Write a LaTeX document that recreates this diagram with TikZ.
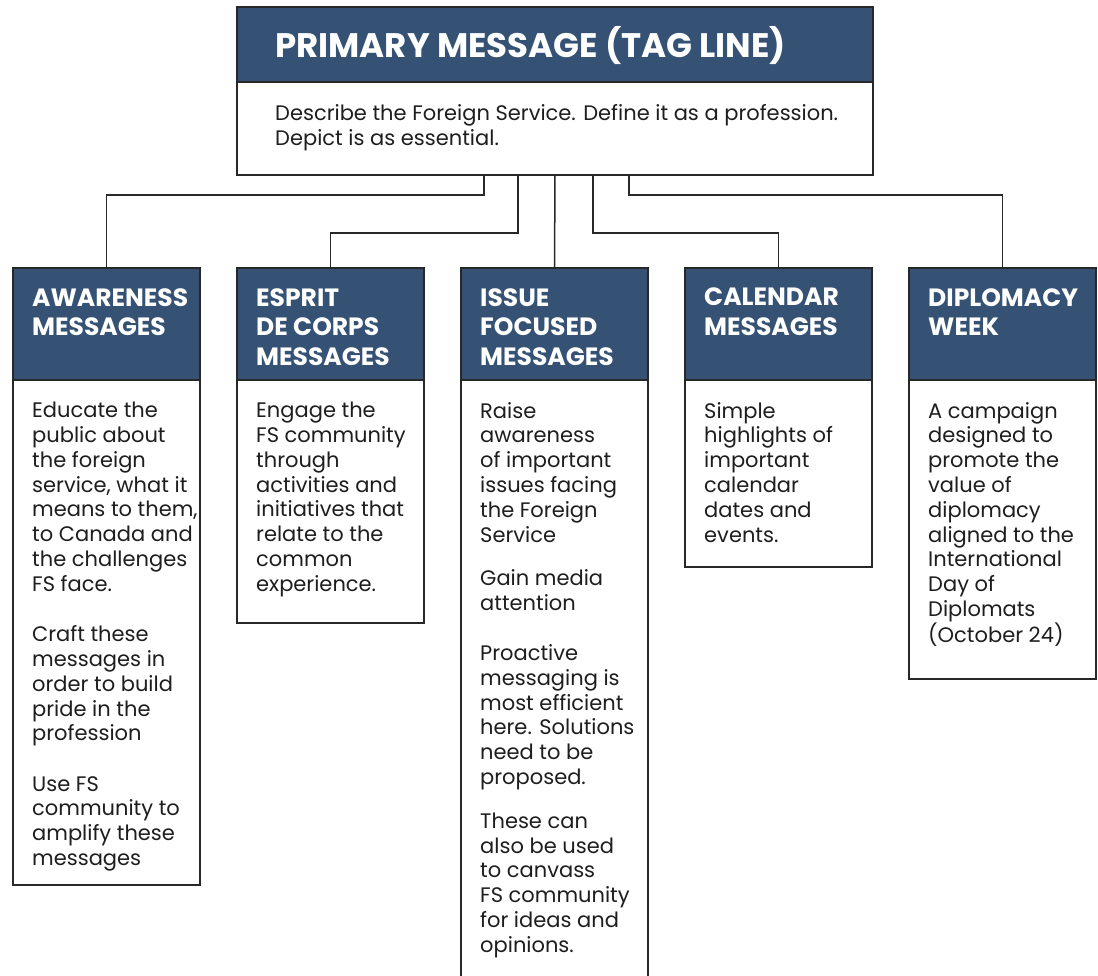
\documentclass[tikz,border=0pt]{standalone}
\usepackage{fontspec}
\setmainfont{Poppins}
\definecolor{navy}{RGB}{53,82,116}
\definecolor{edge}{RGB}{40,40,40}
\definecolor{ink}{RGB}{30,30,30}
\tikzset{
  box/.style={draw=edge, line width=2pt, fill=white, anchor=north west, inner sep=0, outer sep=0},
  band/.style={fill=navy, draw=edge, line width=2pt, anchor=north west, inner sep=0, outer sep=0},
  htext/.style={anchor=north west, inner sep=0, text=white, font=\bfseries\fontsize{25}{29.5}\selectfont, align=left},
  ttext/.style={anchor=north west, inner sep=0, text=white, font=\bfseries\fontsize{34}{38}\selectfont, align=left},
  btext/.style={anchor=north west, inner sep=0, text=ink, font=\fontsize{21}{24.8}\selectfont, align=left},
  link/.style={draw=edge, line width=1.5pt},
}
\begin{document}
\begin{tikzpicture}[x=1pt, y=-1pt]
\useasboundingbox (0,0) rectangle (1098,975);
\clip (0,0) rectangle (1098,975);
% top box
\node[box, minimum width=636, minimum height=168] (top) at (237,7) {};
\node[band, minimum width=636, minimum height=75] (topband) at (237,7) {};
\node[ttext] (toptitle) at (275,26) {PRIMARY MESSAGE (TAG LINE)};
\node[btext] (topbody) at (275,104) {Describe the Foreign Service. Define it as a profession.\\Depict is as essential.};
% columns
\node[box, minimum width=187, minimum height=617] (c1) at (13,268) {};
\node[band, minimum width=187, minimum height=112] (h1) at (13,268) {};
\node[box, minimum width=187, minimum height=355] (c2) at (237,268) {};
\node[band, minimum width=187, minimum height=112] (h2) at (237,268) {};
\node[box, minimum width=187, minimum height=740] (c3) at (461,268) {};
\node[band, minimum width=187, minimum height=112] (h3) at (461,268) {};
\node[box, minimum width=187, minimum height=299] (c4) at (685,268) {};
\node[band, minimum width=187, minimum height=112] (h4) at (685,268) {};
\node[box, minimum width=187, minimum height=411] (c5) at (909,268) {};
\node[band, minimum width=187, minimum height=112] (h5) at (909,268) {};
% header texts
\node[htext] (ht1) at (32,288) {AWARENESS\\MESSAGES};
\node[htext] (ht2) at (256,288) {ESPRIT\\DE CORPS\\MESSAGES};
\node[htext] (ht3) at (480,288) {ISSUE\\FOCUSED\\MESSAGES};
\node[htext] (ht4) at (704,288) {CALENDAR\\MESSAGES};
\node[htext] (ht5) at (928,288) {DIPLOMACY\\WEEK};
% body texts
\node[btext] (bt1) at (32,402) {Educate the\\public about\\the foreign\\service, what it\\means to them,\\to Canada and\\the challenges\\FS face.\\[25.5pt]Craft these\\messages in\\order to build\\pride in the\\profession\\[25.5pt]Use FS\\community to\\amplify these\\messages};
\node[btext] (bt2) at (256,402) {Engage the\\FS community\\through\\activities and\\initiatives that\\relate to the\\common\\experience.};
\node[btext] (bt3) at (480,402) {Raise\\awareness\\of important\\issues facing\\the Foreign\\Service\\[19pt]Gain media\\attention\\[25pt]Proactive\\messaging is\\most efficient\\here. Solutions\\need to be\\proposed.\\[19pt]These can\\also be used\\to canvass\\FS community\\for ideas and\\opinions.};
\node[btext] (bt4) at (704,402) {Simple\\highlights of\\important\\calendar\\dates and\\events.};
\node[btext] (bt5) at (928,402) {A campaign\\designed to\\promote the\\value of\\diplomacy\\aligned to the\\International\\Day of\\Diplomats\\(October 24)};
% connectors
\coordinate (t1) at (484,175);
\coordinate (t2) at (518,175);
\coordinate (t3) at (555,175);
\coordinate (t4) at (593,175);
\coordinate (t5) at (629,175);
\draw[link] (t1) -- ++(0,20) -| (h1.north);
\draw[link] (t2) -- ++(0,58) -| (h2.north);
\draw[link] (t3) -- (h3.north);
\draw[link] (t4) -- ++(0,58) -| (h4.north);
\draw[link] (t5) -- ++(0,20) -| (h5.north);
\end{tikzpicture}
\end{document}
